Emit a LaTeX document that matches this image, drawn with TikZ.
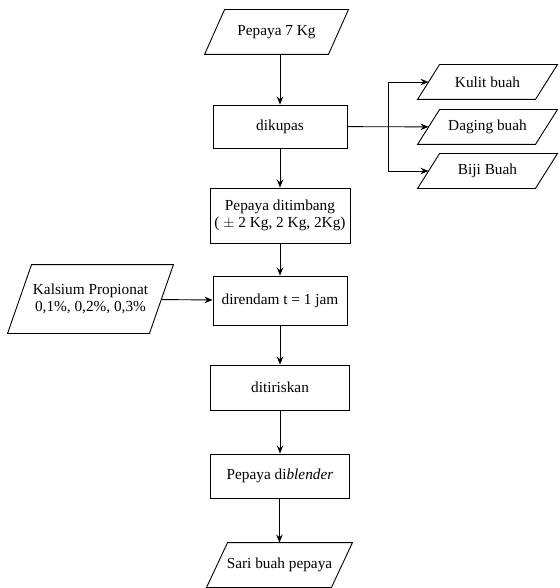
\documentclass[tikz,border=0pt]{standalone}
\usepackage{fontspec}
\setmainfont{Liberation Serif}
\usetikzlibrary{arrows.meta}

\begin{document}
\begin{tikzpicture}[x=1pt,y=-1pt,
  line width=0.9pt,>={Stealth[length=8pt,width=6.5pt]},
  box node/.style={rectangle,draw,align=center,inner sep=1pt,font=\fontsize{15.3}{17.5}\selectfont},
  data node/.style={rectangle,align=center,inner sep=1pt,font=\fontsize{15.3}{17.5}\selectfont}]

  \useasboundingbox (0,0) rectangle (559,588);

  \node[data node,minimum width=123,minimum height=44] (1) at (276.5,32) {Pepaya 7 Kg};
  \node[box node,minimum width=134,minimum height=43] (2) at (280,126.5) {dikupas};
  \node[box node,minimum width=140,minimum height=55] (3) at (280,215.5) {Pepaya ditimbang\\( $\pm$ 2 Kg, 2 Kg, 2Kg)};
  \node[box node,minimum width=134,minimum height=49] (4) at (280,300.5) {direndam t = 1 jam};
  \node[box node,minimum width=139,minimum height=45] (5) at (280,387.5) {ditiriskan};
  \node[box node,minimum width=139,minimum height=44] (6) at (280,476) {Pepaya di\textit{blender}};
  \node[data node,minimum width=124,minimum height=44] (7) at (279.5,565) {Sari buah pepaya};

  \node[data node,minimum width=141,minimum height=68] (8) at (90.5,299) {Kalsium Propionat\\0,1\%, 0,2\%, 0,3\%};

  \node[data node,minimum width=117,minimum height=34] (9) at (487.5,82) {Kulit buah};
  \node[data node,minimum width=117,minimum height=34] (10) at (487.5,127) {Daging buah};
  \node[data node,minimum width=117,minimum height=34] (11) at (487.5,171) {Biji Buah};

  % slanted outlines of the data nodes
  \foreach \n/\s in {1/20,7/21,8/24,9/22,10/22,11/22}
    \draw ([xshift=-\s/2]\n.south west) -- ([xshift=\s/2]\n.north west)
      -- ([xshift=\s/2]\n.north east) -- ([xshift=-\s/2]\n.south east) -- cycle;

  \coordinate (b) at (388,127);

  \path[->]
   (1.south -| 2.north) edge (2)
   (2) edge (3)
   (3) edge (4)
   (4) edge (5)
   (5) edge (6)
   (6.south -| 7.north) edge (7)
   (8) edge (4)
   (2) edge (10);
  \draw[->] (b) |- (9);
  \draw[->] (b) |- (11);
\end{tikzpicture}
\end{document}
